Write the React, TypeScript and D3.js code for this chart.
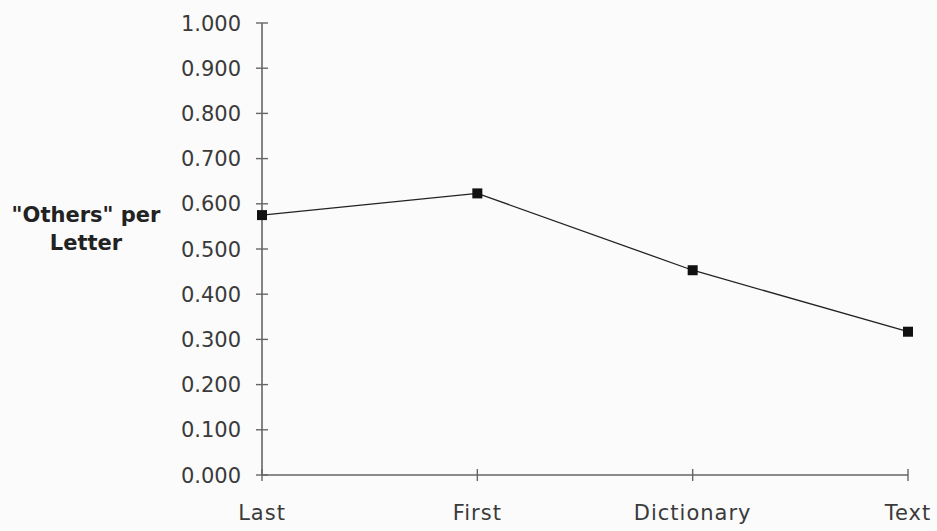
import React from "react";
import * as d3 from "d3";

const categories = ["Last", "First", "Dictionary", "Text"];
const values = [0.575, 0.623, 0.453, 0.317];
const yTicks = [0, 0.1, 0.2, 0.3, 0.4, 0.5, 0.6, 0.7, 0.8, 0.9, 1.0];
const yLabelLines = ["\"Others\" per", "Letter"];

export default function App() {
  const W = 937, H = 531;
  const x = d3.scalePoint<string>().domain(categories).range([262, 908]);
  const y = d3.scaleLinear().domain([0, 1]).range([475, 23]);
  const line = d3.line<number>().x((_, i) => x(categories[i])!).y((d) => y(d));
  const font = "'DejaVu Sans', sans-serif";
  const axisColor = "#666";
  return (
    <svg width={W} height={H} style={{ position: "absolute", left: 0, top: 0, background: "#fbfbfb" }}>
      <rect x={0} y={0} width={W} height={H} fill="#fbfbfb" />
      {/* y axis */}
      <line x1={262} x2={262} y1={y(1)} y2={y(0)} stroke={axisColor} strokeWidth={1.6} />
      {yTicks.map((t) => (
        <g key={t}>
          <line x1={256} x2={268} y1={y(t)} y2={y(t)} stroke={axisColor} strokeWidth={1.4} />
          <text x={241} y={y(t)} dy="0.36em" textAnchor="end" fontFamily={font} fontSize={21} fill="#3a3a3a">
            {d3.format(".3f")(t)}
          </text>
        </g>
      ))}
      {/* x axis */}
      <line x1={262} x2={908} y1={y(0)} y2={y(0)} stroke={axisColor} strokeWidth={1.6} />
      {categories.map((c) => (
        <g key={c}>
          <line x1={x(c)!} x2={x(c)!} y1={y(0) - 6} y2={y(0) + 6} stroke={axisColor} strokeWidth={1.4} />
          <text x={x(c)!} y={y(0) + 45} textAnchor="middle" fontFamily={font} fontSize={21} letterSpacing={1} fill="#3a3a3a">
            {c}
          </text>
        </g>
      ))}
      {/* y label */}
      {yLabelLines.map((l, i) => (
        <text key={l} x={86} y={222 + i * 28} textAnchor="middle" fontFamily={font} fontSize={21} fontWeight="bold" fill="#222">
          {l}
        </text>
      ))}
      {/* line */}
      <path d={line(values)!} fill="none" stroke="#222" strokeWidth={1.3} />
      {values.map((v, i) => (
        <rect key={i} x={x(categories[i])! - 5} y={y(v) - 5} width={10} height={10} fill="#111" />
      ))}
    </svg>
  );
}
